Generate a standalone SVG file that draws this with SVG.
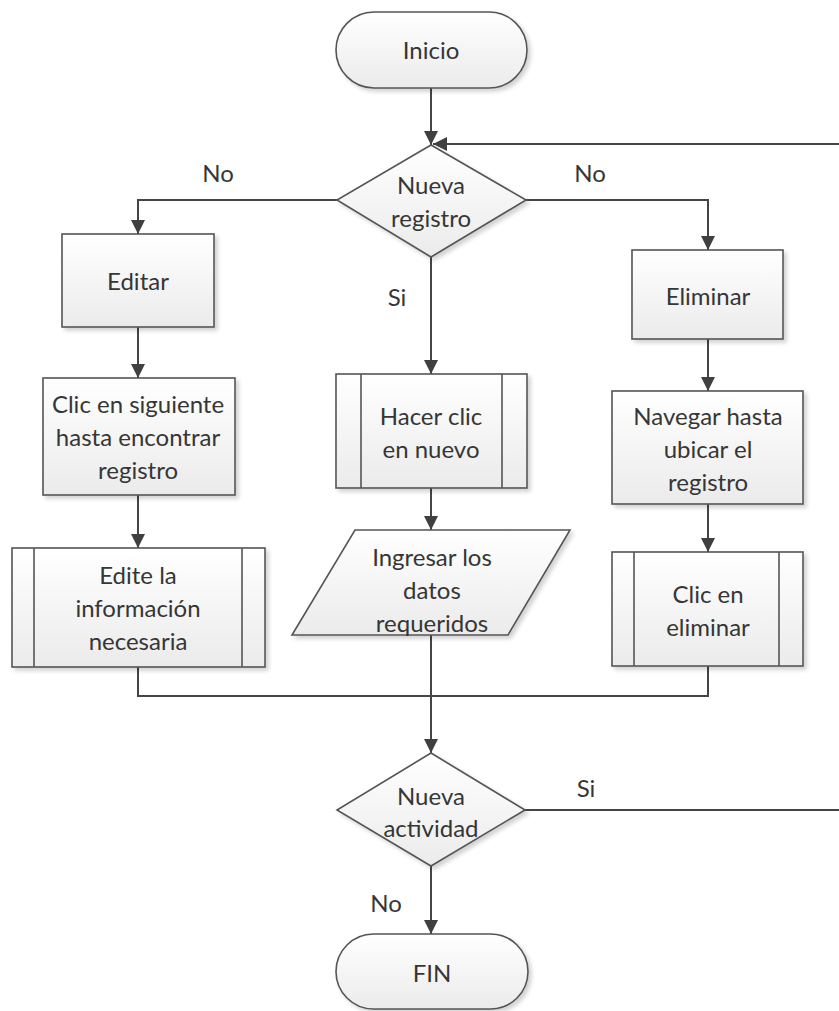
<svg xmlns="http://www.w3.org/2000/svg" width="839" height="1011" viewBox="0 0 839 1011">
  <defs>
    <linearGradient id="fillGrad" x1="0" y1="0" x2="0" y2="1">
      <stop offset="0" stop-color="#ffffff"/>
      <stop offset="1" stop-color="#ebebeb"/>
    </linearGradient>
    <filter id="shadow" x="-10%" y="-10%" width="130%" height="130%">
      <feGaussianBlur in="SourceAlpha" stdDeviation="2"/>
      <feOffset dx="3" dy="3" result="blur"/>
      <feComponentTransfer result="soft">
        <feFuncA type="linear" slope="0.18"/>
      </feComponentTransfer>
      <feMerge>
        <feMergeNode in="soft"/>
        <feMergeNode in="SourceGraphic"/>
      </feMerge>
    </filter>
    <marker id="arrow" viewBox="0 0 14 14" refX="14" refY="7" markerWidth="14" markerHeight="14" markerUnits="userSpaceOnUse" orient="auto">
      <path d="M0,0 L14,7 L0,14 Z" fill="#404040"/>
    </marker>
  </defs>
  <style>
    .shape { fill: url(#fillGrad); stroke: #555555; stroke-width: 1.6; filter: url(#shadow); }
    .bar { stroke: #555555; stroke-width: 1.6; fill: none; }
    .line { fill: none; stroke: #454545; stroke-width: 2; }
    .arr { marker-end: url(#arrow); }
    text { font-family: Lato, "Liberation Sans", sans-serif; font-size: 24px; fill: #363636; text-anchor: middle; dominant-baseline: central; }
  </style>

  <!-- connectors -->
  <g id="connectors">
    <line class="line arr" x1="431" y1="88" x2="431" y2="145"/>
    <line class="line arr" x1="839" y1="144" x2="433" y2="144"/>
    <polyline class="line arr" points="337,200 138,200 138,234"/>
    <polyline class="line arr" points="526,200 708,200 708,250"/>
    <line class="line arr" x1="431" y1="257" x2="431" y2="374"/>
    <line class="line arr" x1="138" y1="327" x2="138" y2="378"/>
    <line class="line arr" x1="138" y1="495" x2="138" y2="548"/>
    <line class="line arr" x1="431" y1="488" x2="431" y2="530"/>
    <line class="line arr" x1="708" y1="339" x2="708" y2="391"/>
    <line class="line arr" x1="708" y1="504" x2="708" y2="552"/>
    <polyline class="line" points="138,667 138,696 708,696 708,666"/>
    <line class="line arr" x1="431" y1="635" x2="431" y2="753"/>
    <line class="line" x1="525" y1="810" x2="839" y2="810"/>
    <line class="line arr" x1="431" y1="866" x2="431" y2="934"/>
  </g>

  <!-- edge labels -->
  <g id="labels">
    <text x="218" y="172">No</text>
    <text x="590" y="172">No</text>
    <text x="397" y="296">Si</text>
    <text x="586" y="787">Si</text>
    <text x="386" y="902">No</text>
  </g>

  <g id="inicio">
    <rect class="shape" x="336" y="12" width="191" height="76" rx="38" ry="38"/>
    <text x="431" y="49">Inicio</text>
  </g>

  <g id="decision-registro">
    <polygon class="shape" points="431,145 526,200 431,257 337,200"/>
    <text x="431" y="184">Nueva</text>
    <text x="431" y="217">registro</text>
  </g>

  <g id="editar">
    <rect class="shape" x="62" y="234" width="152" height="93"/>
    <text x="138" y="280">Editar</text>
  </g>

  <g id="clic-siguiente">
    <rect class="shape" x="43" y="378" width="192" height="117"/>
    <text x="138" y="403">Clic en siguiente</text>
    <text x="138" y="436">hasta encontrar</text>
    <text x="138" y="469">registro</text>
  </g>

  <g id="edite-informacion">
    <rect class="shape" x="12" y="548" width="253" height="119"/>
    <line class="bar" x1="34" y1="548" x2="34" y2="667"/>
    <line class="bar" x1="242" y1="548" x2="242" y2="667"/>
    <text x="138" y="574">Edite la</text>
    <text x="138" y="607">información</text>
    <text x="138" y="640">necesaria</text>
  </g>

  <g id="hacer-clic">
    <rect class="shape" x="336" y="374" width="191" height="114"/>
    <line class="bar" x1="361" y1="374" x2="361" y2="488"/>
    <line class="bar" x1="502" y1="374" x2="502" y2="488"/>
    <text x="431" y="415">Hacer clic</text>
    <text x="431" y="448">en nuevo</text>
  </g>

  <g id="ingresar-datos">
    <polygon class="shape" points="355,530 570,530 508,635 292,635"/>
    <text x="432" y="556">Ingresar los</text>
    <text x="432" y="589">datos</text>
    <text x="432" y="622">requeridos</text>
  </g>

  <g id="eliminar">
    <rect class="shape" x="632" y="250" width="151" height="89"/>
    <text x="708" y="295">Eliminar</text>
  </g>

  <g id="navegar">
    <rect class="shape" x="612" y="391" width="191" height="113"/>
    <text x="708" y="415">Navegar hasta</text>
    <text x="708" y="448">ubicar el</text>
    <text x="708" y="481">registro</text>
  </g>

  <g id="clic-eliminar">
    <rect class="shape" x="612" y="552" width="191" height="114"/>
    <line class="bar" x1="634" y1="552" x2="634" y2="666"/>
    <line class="bar" x1="779" y1="552" x2="779" y2="666"/>
    <text x="708" y="593">Clic en</text>
    <text x="708" y="626">eliminar</text>
  </g>

  <g id="decision-actividad">
    <polygon class="shape" points="431,753 525,810 431,866 337,810"/>
    <text x="431" y="795">Nueva</text>
    <text x="431" y="827">actividad</text>
  </g>

  <g id="fin">
    <rect class="shape" x="336" y="934" width="192" height="75" rx="37.5" ry="37.5"/>
    <text x="432" y="972">FIN</text>
  </g>
</svg>
